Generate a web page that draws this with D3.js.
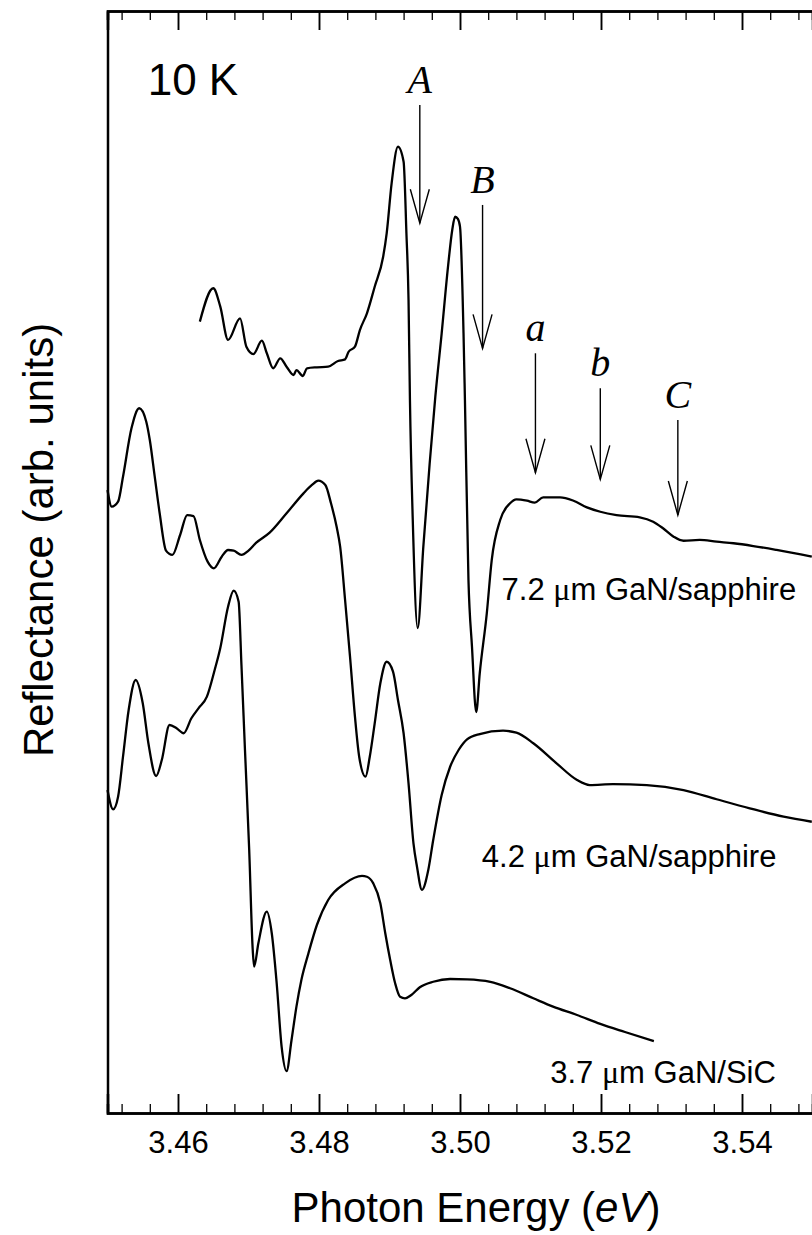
<!DOCTYPE html>
<html>
<head>
<meta charset="utf-8">
<script src="https://cdn.jsdelivr.net/npm/d3@7"></script>
<style>
  html, body { margin: 0; padding: 0; background: #fff; }
  svg { display: block; }
</style>
</head>
<body>
<svg id="chart" width="812" height="1235"></svg>
<script>
// ---- Reflectance spectra at 10 K (photon energy in eV, reflectance in arb. units) ----

// 7.2 um GaN on sapphire
const energy72 = [3.4631,3.4650,3.4660,3.4671,3.4688,3.4697,3.4707,3.4719,3.4726,3.4735,3.4745,3.4754,3.4764,3.4768,3.4777,3.4783,3.4797,3.4813,3.4827,3.4837,3.4842,3.4851,3.4858,3.4868,3.4879,3.4891,3.4896,3.4903,3.4912,3.4920,3.4924,3.4927,3.4929,3.4933,3.4940,3.4948,3.4957,3.4965,3.4974,3.4983,3.4989,3.4993,3.4997,3.5000,3.5005,3.5007,3.5012,3.5017,3.5023,3.5028,3.5038,3.5045,3.5057,3.5071,3.5080,3.5095,3.5106,3.5118,3.5142,3.5161,3.5180,3.5199,3.5222,3.5255,3.5274,3.5288,3.5303,3.5317,3.5340,3.5364,3.5388,3.5416,3.5449,3.5499];
const refl72   = [7.181,7.484,7.317,7.015,7.211,6.954,6.887,7.008,6.894,6.758,6.848,6.772,6.697,6.742,6.688,6.758,6.767,6.772,6.824,6.839,6.908,6.954,7.105,7.257,7.498,7.770,7.983,8.436,8.769,8.632,7.983,7.377,6.470,5.381,4.401,5.139,5.896,6.500,7.075,7.680,8.013,8.133,8.113,8.043,7.075,6.470,4.837,4.231,3.639,3.990,4.534,5.018,5.381,5.533,5.569,5.556,5.538,5.587,5.587,5.556,5.496,5.456,5.426,5.406,5.366,5.306,5.230,5.193,5.200,5.184,5.170,5.145,5.109,5.048];

// 4.2 um GaN on sapphire
const energy42 = [3.4500,3.4506,3.4515,3.4522,3.4534,3.4545,3.4555,3.4560,3.4567,3.4574,3.4583,3.4592,3.4603,3.4613,3.4622,3.4631,3.4642,3.4651,3.4662,3.4671,3.4679,3.4690,3.4700,3.4711,3.4730,3.4754,3.4778,3.4790,3.4799,3.4809,3.4817,3.4825,3.4830,3.4837,3.4844,3.4851,3.4857,3.4866,3.4872,3.4879,3.4887,3.4896,3.4905,3.4912,3.4920,3.4927,3.4934,3.4939,3.4946,3.4955,3.4962,3.4974,3.4986,3.4998,3.5010,3.5028,3.5061,3.5080,3.5104,3.5137,3.5166,3.5184,3.5217,3.5265,3.5317,3.5364,3.5411,3.5459,3.5499];
const refl42   = [5.653,5.502,5.547,5.774,6.213,6.395,6.273,6.107,5.774,5.442,5.103,5.064,5.245,5.426,5.417,5.200,5.003,4.943,5.048,5.109,5.103,5.064,5.103,5.175,5.266,5.442,5.623,5.699,5.738,5.699,5.533,5.320,5.139,4.655,4.141,3.596,3.233,3.052,3.233,3.536,3.899,4.095,4.005,3.748,3.446,2.992,2.447,2.235,2.024,2.205,2.477,2.886,3.142,3.294,3.391,3.439,3.469,3.451,3.355,3.173,3.022,2.976,2.985,2.976,2.931,2.847,2.765,2.689,2.643];

// 3.7 um GaN on SiC
const energy37 = [3.4500,3.4508,3.4515,3.4522,3.4530,3.4540,3.4550,3.4558,3.4569,3.4577,3.4588,3.4598,3.4608,3.4619,3.4629,3.4641,3.4652,3.4660,3.4671,3.4679,3.4686,3.4690,3.4695,3.4701,3.4706,3.4708,3.4714,3.4726,3.4733,3.4740,3.4747,3.4754,3.4761,3.4768,3.4775,3.4785,3.4797,3.4813,3.4837,3.4861,3.4868,3.4877,3.4887,3.4894,3.4901,3.4908,3.4915,3.4922,3.4931,3.4943,3.4962,3.4986,3.5010,3.5043,3.5071,3.5104,3.5132,3.5166,3.5199,3.5234,3.5275];
const refl37   = [2.931,2.756,2.870,3.233,3.657,3.929,3.718,3.355,3.058,3.203,3.521,3.491,3.446,3.582,3.672,3.778,4.020,4.220,4.594,4.740,4.640,4.065,3.294,2.387,1.479,1.328,1.540,1.827,1.631,1.177,0.600,0.380,0.660,0.965,1.207,1.449,1.706,1.933,2.084,2.151,2.144,2.084,1.903,1.631,1.388,1.177,1.055,1.041,1.071,1.141,1.191,1.216,1.213,1.191,1.132,1.041,0.965,0.889,0.808,0.735,0.653];

// series labels: thickness, substrate, anchor [energy, reflectance]
const seriesThickness = ["7.2", "4.2", "3.7"];
const seriesSubstrate = ["GaN/sapphire", "GaN/sapphire", "GaN/SiC"];
const seriesLabelAt = [[3.5059, 4.655], [3.5031, 2.235], [3.5128, 0.272]];

// exciton markers: letter, energy, arrow start, arrow tip (arb. units)
const markerLetters = ["A", "B", "a", "b", "C"];
const markerEnergy  = [3.4943, 3.5032, 3.5107, 3.5199, 3.5309];
const markerTop     = [9.147, 8.240, 6.894, 6.576, 6.289];
const markerTip     = [8.074, 6.939, 5.810, 5.750, 5.426];

const majorTicks = [3.46, 3.48, 3.50, 3.52, 3.54];
const minorTicks = [3.452,3.456,3.464,3.468,3.472,3.476,3.484,3.488,3.492,3.496,3.504,3.508,3.512,3.516,3.524,3.528,3.532,3.536,3.544,3.548];

const xDomain = [3.45, 3.55];
const yDomain = [0, 10];

// ---- layout ----
const svg = d3.select("#chart");
const plot = { left: 107.5, right: 812.5, top: 11, bottom: 1113 };

const x = d3.scaleLinear().domain(xDomain).range([plot.left, plot.right]);
const y = d3.scaleLinear().domain(yDomain).range([plot.bottom, plot.top]);

const sans = "'Liberation Sans', Arial, Helvetica, sans-serif";
const serif = "'Liberation Serif', 'Times New Roman', serif";

// curves
const line = d3.line().x(d => x(d[0])).y(d => y(d[1])).curve(d3.curveMonotoneX);
const series = [
  d3.zip(energy72, refl72),
  d3.zip(energy42, refl42),
  d3.zip(energy37, refl37)
];
svg.append("g").selectAll("path").data(series).join("path")
  .attr("d", line)
  .attr("fill", "none")
  .attr("stroke", "#000")
  .attr("stroke-width", 2.3)
  .attr("stroke-linejoin", "round");

// axes: bottom with labels, top mirrored without labels
const bottomMajor = d3.axisBottom(x).tickValues(majorTicks).tickSize(-19).tickPadding(18).tickFormat(d3.format(".2f"));
const bottomMinor = d3.axisBottom(x).tickValues(minorTicks).tickSize(-9).tickFormat("");
const topMajor = d3.axisTop(x).tickValues(majorTicks).tickSize(-19).tickFormat("");
const topMinor = d3.axisTop(x).tickValues(minorTicks).tickSize(-9).tickFormat("");

function styleAxis(width) {
  return g => {
    g.select(".domain").attr("stroke-width", 2.5);
    g.selectAll(".tick line").attr("stroke-width", width);
    g.selectAll(".tick text").attr("font-family", sans).attr("font-size", 31).attr("fill", "#000");
  };
}
svg.append("g").attr("transform", `translate(0,${plot.bottom})`).call(bottomMajor).call(styleAxis(1.9));
svg.append("g").attr("transform", `translate(0,${plot.bottom})`).call(bottomMinor).call(styleAxis(1.3));
svg.append("g").attr("transform", `translate(0,${plot.top})`).call(topMajor).call(styleAxis(1.9));
svg.append("g").attr("transform", `translate(0,${plot.top})`).call(topMinor).call(styleAxis(1.3));

// left frame line (no ticks)
svg.append("g").attr("transform", `translate(${plot.left},0)`)
  .call(d3.axisLeft(y).tickValues([]).tickSizeOuter(0))
  .select(".domain").attr("stroke-width", 2.5);

// axis titles
const xTitle = svg.append("text")
  .attr("x", 476).attr("y", 1222)
  .attr("text-anchor", "middle")
  .attr("font-family", sans).attr("font-size", 42).attr("fill", "#000");
xTitle.append("tspan").text("Photon Energy (");
xTitle.append("tspan").attr("font-style", "italic").text("eV");
xTitle.append("tspan").text(")");

svg.append("text")
  .attr("transform", `translate(53,${(y(5.2))}) rotate(-90)`)
  .attr("text-anchor", "middle")
  .attr("font-family", sans).attr("font-size", 42).attr("fill", "#000")
  .text("Reflectance (arb. units)");

// temperature tag
svg.append("text")
  .attr("x", x(3.4557)).attr("y", y(9.238))
  .attr("font-family", sans).attr("font-size", 44).attr("fill", "#000")
  .text("10 K");

// series labels (thickness, Greek mu in a symbol-like serif face, sample)
const labels = svg.append("g").selectAll("text").data(seriesThickness).join("text")
  .attr("x", (d, i) => x(seriesLabelAt[i][0]))
  .attr("y", (d, i) => y(seriesLabelAt[i][1]))
  .attr("font-family", sans).attr("font-size", 31).attr("fill", "#000");
labels.append("tspan").text(d => d + " ");
labels.append("tspan").attr("font-family", serif).attr("font-size", 32).text("\u03bc");
labels.append("tspan").text((d, i) => "m " + seriesSubstrate[i]);

// exciton arrows
const headLen = 34, headHalf = 9.5;
const markers = svg.append("g").selectAll("g").data(markerLetters).join("g");
markers.append("line")
  .attr("x1", (d, i) => x(markerEnergy[i])).attr("x2", (d, i) => x(markerEnergy[i]))
  .attr("y1", (d, i) => y(markerTop[i])).attr("y2", (d, i) => y(markerTip[i]))
  .attr("stroke", "#000").attr("stroke-width", 1.4);
markers.append("path")
  .attr("d", (d, i) => {
    const px = x(markerEnergy[i]), py = y(markerTip[i]);
    return `M${px - headHalf},${py - headLen}L${px},${py}L${px + headHalf},${py - headLen}`;
  })
  .attr("fill", "none").attr("stroke", "#000").attr("stroke-width", 1.4);
markers.append("text")
  .attr("x", (d, i) => x(markerEnergy[i]))
  .attr("y", (d, i) => y(markerTop[i]) - 12)
  .attr("text-anchor", "middle")
  .attr("font-family", serif).attr("font-style", "italic").attr("font-size", 40).attr("fill", "#000")
  .text(d => d);
</script>
</body>
</html>
